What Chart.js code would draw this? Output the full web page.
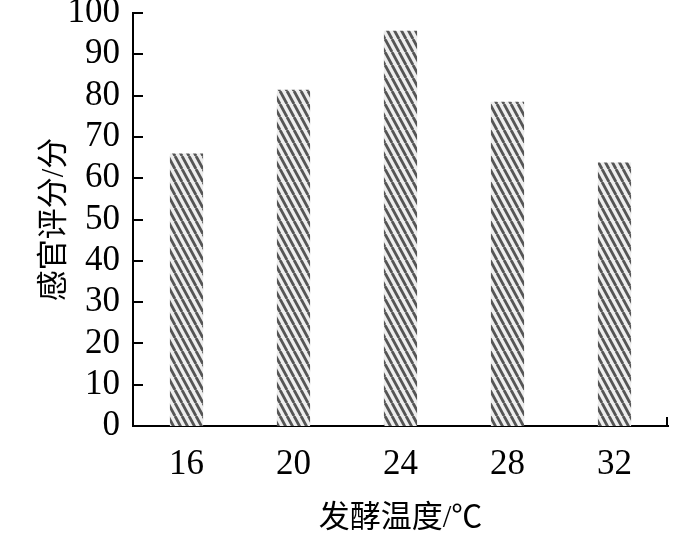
<!DOCTYPE html>
<html>
<head>
<meta charset="utf-8">
<script src="https://cdn.jsdelivr.net/npm/chart.js@4/dist/chart.umd.min.js"></script>
<style>
html,body{margin:0;padding:0;background:#fff;}
#wrap{width:690px;height:537px;}
</style>
</head>
<body>
<div id="wrap"><canvas id="c" width="690" height="537"></canvas></div>
<script>
const categories = ['16', '20', '24', '28', '32'];
const scores = [66.0, 81.4, 95.7, 78.5, 63.8];
const yTicks = [0, 10, 20, 30, 40, 50, 60, 70, 80, 90, 100];
const yTitle = '感官评分/分';
const xTitle = '发酵温度/℃';

function makePattern() {
  const w = 7, h = 13;
  const p = document.createElement('canvas');
  p.width = w; p.height = h;
  const g = p.getContext('2d');
  g.fillStyle = '#eeeeee';
  g.fillRect(0, 0, w, h);
  g.strokeStyle = '#555555';
  g.lineWidth = 2.8;
  for (const dx of [-w, 0, w]) {
    g.beginPath();
    g.moveTo(dx, 0);
    g.lineTo(dx + w, h);
    g.stroke();
  }
  const ctx = document.getElementById('c').getContext('2d');
  return ctx.createPattern(p, 'repeat');
}

const axisDeco = {
  id: 'axisDeco',
  afterDraw(chart) {
    const ctx = chart.ctx;
    const y = chart.scales.y;
    const area = chart.chartArea;
    ctx.save();
    ctx.strokeStyle = '#000';
    ctx.lineWidth = 2;
    ctx.beginPath();
    yTicks.forEach(v => {
      const py = Math.round(y.getPixelForValue(v));
      ctx.moveTo(area.left, py);
      ctx.lineTo(area.left + 10, py);
    });
    ctx.moveTo(area.right - 1, area.bottom);
    ctx.lineTo(area.right - 1, area.bottom - 9);
    ctx.stroke();
    ctx.restore();
  }
};

const serif = '"Liberation Serif", "Times New Roman", serif';
const cjk = '"Liberation Serif", "Noto Sans CJK SC", serif';

new Chart(document.getElementById('c'), {
  type: 'bar',
  data: {
    labels: categories,
    datasets: [{
      data: scores,
      backgroundColor: makePattern(),
      borderWidth: 0,
      barPercentage: 0.31,
      categoryPercentage: 1.0
    }]
  },
  options: {
    responsive: false,
    animation: false,
    layout: { padding: { top: 13, right: 22, left: 0, bottom: 0 } },
    plugins: { legend: { display: false }, tooltip: { enabled: false } },
    scales: {
      x: {
        grid: { display: false, drawTicks: false },
        border: { display: true, color: '#000', width: 2 },
        ticks: {
          color: '#000',
          padding: 18,
          font: { family: serif, size: 35 }
        },
        title: {
          display: true,
          text: xTitle,
          color: '#000',
          padding: { top: 0, bottom: 0 },
          font: { family: cjk, size: 31 }
        },
        afterFit(s) { s.height = 111; }
      },
      y: {
        min: 0,
        max: 100,
        afterBuildTicks(s) { s.ticks = yTicks.map(v => ({ value: v })); },
        grid: { display: false, drawTicks: false },
        border: { display: true, color: '#000', width: 2 },
        ticks: {
          autoSkip: false,
          color: '#000',
          padding: 13,
          font: { family: serif, size: 35 }
        },
        title: {
          display: true,
          text: yTitle,
          color: '#000',
          padding: { top: 36, bottom: 0 },
          font: { family: cjk, size: 31 }
        },
        afterFit(s) { s.width = 133; s.paddingTop = 0; s.paddingBottom = 0; }
      }
    }
  },
  plugins: [axisDeco]
});
</script>
</body>
</html>
